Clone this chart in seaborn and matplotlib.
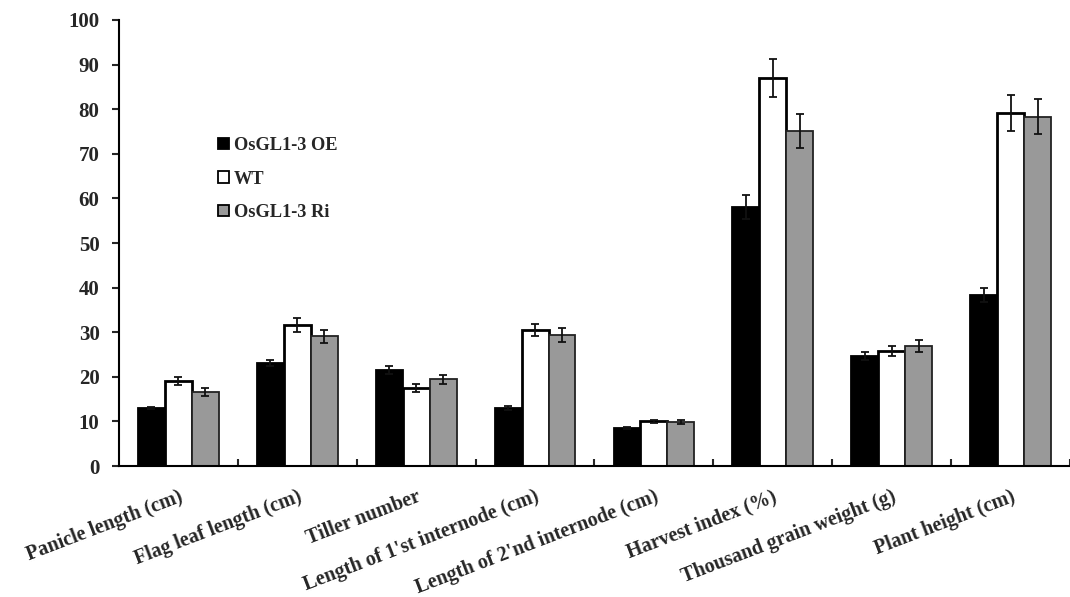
import numpy as np
import pandas as pd
import seaborn as sns
import matplotlib.pyplot as plt
from matplotlib.patches import Patch

# Trait categories on the x axis
traits = [
    "Panicle length (cm)",
    "Flag leaf length (cm)",
    "Tiller number",
    "Length of 1'st internode (cm)",
    "Length of 2'nd internode (cm)",
    "Harvest index (%)",
    "Thousand grain weight (g)",
    "Plant height (cm)",
]
lines = ["OsGL1-3 OE", "WT", "OsGL1-3 Ri"]

# Means and standard errors per line
oe_mean = [13.0, 23.1, 21.5, 13.0, 8.5, 58.0, 24.7, 38.3]
oe_err = [0.3, 0.7, 0.9, 0.5, 0.2, 2.7, 0.9, 1.6]
wt_mean = [19.1, 31.6, 17.5, 30.5, 10.0, 87.0, 25.8, 79.2]
wt_err = [0.9, 1.6, 0.8, 1.4, 0.4, 4.3, 1.2, 4.0]
ri_mean = [16.6, 29.1, 19.5, 29.4, 9.9, 75.1, 26.9, 78.3]
ri_err = [0.9, 1.5, 1.0, 1.5, 0.5, 3.8, 1.3, 3.9]

y_ticks = [0, 10, 20, 30, 40, 50, 60, 70, 80, 90, 100]

means = [oe_mean, wt_mean, ri_mean]
errs = [oe_err, wt_err, ri_err]
colors = ["#000000", "#ffffff", "#999999"]

df = pd.DataFrame({
    "trait": np.tile(traits, len(lines)),
    "line": np.repeat(lines, len(traits)),
    "value": np.concatenate(means),
})

sns.set_style("ticks")
plt.rcParams["font.family"] = ["Liberation Serif", "DejaVu Serif"]
plt.rcParams["font.weight"] = "bold"

fig = plt.figure(figsize=(10.7, 5.97), dpi=100)
ax = fig.add_axes([0.1112, 0.2194, 0.8888, 0.7471])

sns.barplot(
    data=df, x="trait", y="value", hue="line", order=traits, hue_order=lines,
    palette=colors, width=0.68, errorbar=None, edgecolor="black",
    linewidth=1.3, saturation=1, legend=False, ax=ax,
)

edge_widths = [1.3, 2.0, 1.3]
edge_colors = ["#000000", "#000000", "#222222"]
for cont, err, lw, ec in zip(ax.containers, errs, edge_widths, edge_colors):
    for p in cont:
        p.set_linewidth(lw)
        p.set_edgecolor(ec)
    xs = [p.get_x() + p.get_width() / 2 for p in cont]
    ys = [p.get_height() for p in cont]
    ax.errorbar(xs, ys, yerr=err, fmt="none", ecolor="#111111",
                elinewidth=1.3, capsize=2.7, capthick=1.3, zorder=5)

ax.set_xlim(-0.5, len(traits) - 0.5)
ax.set_ylim(0, 100)
ax.set_yticks(y_ticks)
ax.set_xlabel("")
ax.set_ylabel("")

for side in ("top", "right"):
    ax.spines[side].set_visible(False)
for side in ("left", "bottom"):
    ax.spines[side].set_linewidth(1.5)
    ax.spines[side].set_color("black")

ax.tick_params(axis="y", direction="out", length=5, width=1.5, pad=9,
               labelsize=15)
ax.set_xticks(np.arange(len(traits)))
ax.set_xticks(np.arange(len(traits)) + 0.5, minor=True)
ax.tick_params(axis="x", which="major", length=0, pad=15, labelsize=14.5)
ax.tick_params(axis="x", which="minor", direction="in", length=5, width=1.5)
ax.set_xticklabels(traits, rotation=21, ha="right", va="top",
                   rotation_mode="anchor", fontweight="bold")
for lab in ax.get_yticklabels():
    lab.set_fontweight("bold")

handles = [Patch(facecolor=c, edgecolor="black", linewidth=1.3) for c in colors]
fig.legend(handles, lines, loc="upper left", bbox_to_anchor=(0.2037, 0.7705),
           bbox_transform=fig.transFigure, frameon=False,
           handlelength=0.6, handleheight=0.6, handletextpad=0.25,
           labelspacing=0.9, borderpad=0, borderaxespad=0,
           prop={"weight": "bold", "size": 13.2})

fig.savefig("out.png", dpi=100)
